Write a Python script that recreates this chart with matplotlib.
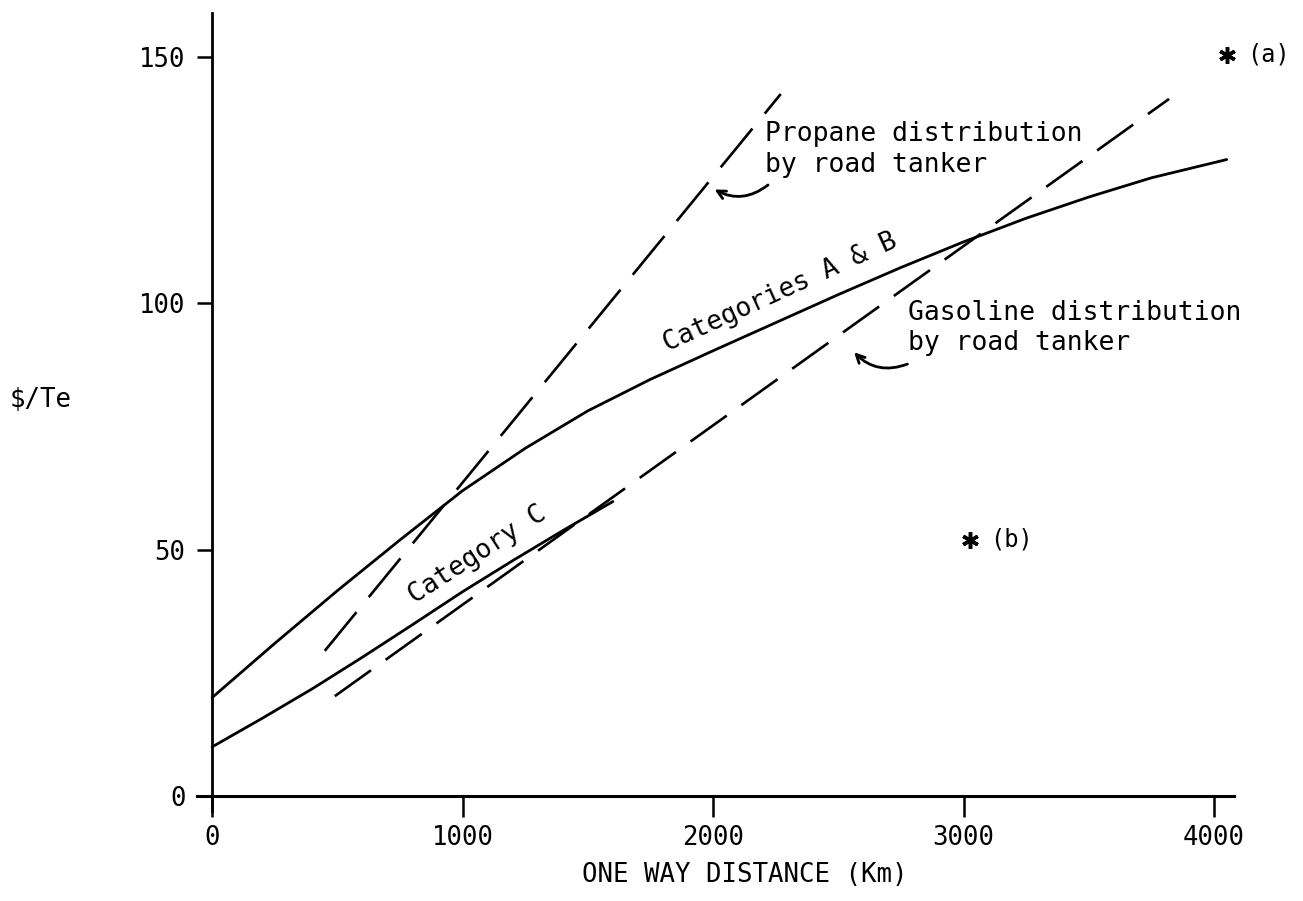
import matplotlib
matplotlib.use("Agg")
import matplotlib.pyplot as plt

plt.rcParams['font.family'] = 'DejaVu Sans Mono'
plt.rcParams['lines.scale_dashes'] = False

# curves ($/Te vs one way distance in km)
dist_ab = [0, 250, 500, 750, 1000, 1250, 1500, 1750, 2000, 2250, 2500, 2750, 3000, 3250, 3500, 3750, 4050]
cost_ab = [20, 31, 41.7, 52, 62, 70.6, 78.2, 84.6, 90.4, 96.1, 101.8, 107.3, 112.5, 117.3, 121.6, 125.5, 129.2]

dist_c = [0, 200, 400, 600, 800, 1000, 1200, 1400, 1600]
cost_c = [10, 15.8, 21.8, 28.2, 34.8, 41.5, 47.8, 53.9, 59.8]

dist_propane = [450, 2270]
cost_propane = [29.5, 142.5]

dist_gasoline = [490, 3820]
cost_gasoline = [20.3, 141.5]

point_a = (4050, 150.5)
point_b = (3026, 52)

xticks = [0, 1000, 2000, 3000, 4000]
yticks = [0, 50, 100, 150]

fig = plt.figure(figsize=(13.03, 9.01), dpi=100)
ax = fig.add_axes([0.1512, 0.0999, 0.796, 0.886])
ax.set_xlim(-60, 4080)
ax.set_ylim(-3, 159)

ax.plot(dist_ab, cost_ab, color='black', lw=2.0, solid_capstyle='round')
ax.plot(dist_c, cost_c, color='black', lw=2.0, solid_capstyle='round')
ax.plot(dist_propane, cost_propane, color='black', lw=1.9, dashes=(36, 14))
ax.plot(dist_gasoline, cost_gasoline, color='black', lw=1.9, dashes=(32, 13))

# asterisk points
for pt, lab in [(point_a, '(a)'), (point_b, '(b)')]:
    ax.plot([pt[0]], [pt[1]], marker=(6, 2, 0), ms=12, mew=2.5,
            color='black', clip_on=False, linestyle='none')
    ax.text(pt[0] + 80, pt[1], lab, fontsize=17, va='center', ha='left')

# curve labels
ax.text(2267, 102.3, 'Categories A & B', fontsize=19, rotation=24.5,
        rotation_mode='anchor', ha='center', va='center')
ax.text(1058, 48.9, 'Category C', fontsize=19, rotation=33,
        rotation_mode='anchor', ha='center', va='center')

ax.text(2208, 131.2, 'Propane distribution\nby road tanker', fontsize=19,
        ha='left', va='center', linespacing=1.25)
ax.text(2778, 95, 'Gasoline distribution\nby road tanker', fontsize=19,
        ha='left', va='center', linespacing=1.2)

arrow = dict(arrowstyle='->,head_length=0.6,head_width=0.3', lw=2.0,
             color='black', connectionstyle='arc3,rad=-0.35')
ax.annotate('', xy=(1996, 123.4), xytext=(2228, 124.4), arrowprops=arrow)
ax.annotate('', xy=(2555, 90.5), xytext=(2786, 87.9), arrowprops=arrow)

# axes styling
for s in ['top', 'right']:
    ax.spines[s].set_visible(False)
ax.spines['left'].set_position(('data', 0))
ax.spines['bottom'].set_position(('data', 0))
ax.spines['left'].set_linewidth(2.0)
ax.spines['bottom'].set_linewidth(2.2)

ax.set_xticks(xticks)
ax.set_yticks(yticks)
ax.tick_params(axis='x', direction='out', length=15, width=1.8, pad=6, labelsize=18.5)
ax.tick_params(axis='y', direction='out', length=11, width=1.8, pad=8, labelsize=18.5)

fig.text(745 / 1303, 1 - 875 / 901, 'ONE WAY DISTANCE (Km)', fontsize=18.5,
         ha='center', va='center')
fig.text(41 / 1303, 1 - 400 / 901, r'\$/Te', fontsize=18.5, ha='center', va='center')

fig.savefig('out.png', dpi=100)
